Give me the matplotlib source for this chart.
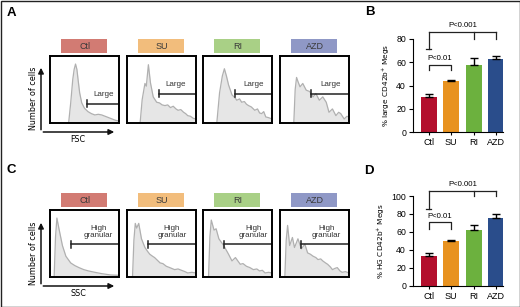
import matplotlib.pyplot as plt
import matplotlib.patches as mpatches
import numpy as np

W, H = 520, 307

groups = ['Ctl', 'SU', 'RI', 'AZD']
header_colors = ['#d27b73', '#f2bd7c', '#a9d086', '#8f98c6']
bar_colors = ['#b30f2d', '#e8921f', '#6cb13e', '#2a4d8b']

# bar panels (B: large, D: high granular)
large_pct = [30, 44, 58, 62.5]
large_err = [2.5, 1, 6, 3]
hg_pct = [33, 49.5, 62, 75.5]
hg_err = [3, 1.5, 6, 4]

# FSC histograms (x, height in % of box)
fsc_ctl_x = [27, 30, 33, 35, 37, 39, 41, 43, 46, 50, 55, 60, 65, 70, 75, 80, 85, 90, 95, 100]
fsc_ctl_y = [0, 30, 65, 80, 88, 80, 62, 45, 30, 22, 17, 14, 12, 13, 12, 10, 8, 6, 4, 3]
fsc_su_x = [19, 22, 26, 28, 31, 34, 38, 43, 47, 51, 55, 59, 63, 67, 71, 74, 78, 82, 85, 88, 92, 96, 100]
fsc_su_y = [0, 35, 59, 55, 87, 60, 39, 31, 30, 27, 26, 27, 23, 25, 21, 19, 20, 16, 14, 11, 10, 7, 6]
fsc_ri_x = [20, 24, 28, 31, 34, 37, 42, 46, 49, 53, 56, 60, 63, 66, 70, 75, 79, 82, 85, 88, 91, 95, 100]
fsc_ri_y = [0, 45, 70, 81, 70, 57, 42, 38, 34, 36, 31, 32, 28, 26, 24, 19, 21, 15, 14, 17, 9, 8, 6]
fsc_azd_x = [20, 22, 24, 26, 29, 33, 38, 43, 48, 52, 57, 62, 67, 71, 76, 81, 85, 88, 93, 97, 100]
fsc_azd_y = [0, 50, 68, 62, 54, 59, 49, 47, 39, 44, 34, 39, 31, 16, 21, 11, 16, 14, 6, 10, 9]
fsc_gate = [53, 47, 47, 45]
fsc_gate_y = [29, 44, 44, 44]

# SSC histograms
ssc_ctl_x = [6, 8, 10, 13, 18, 23, 30, 36, 42, 49, 56, 65, 75, 88, 100]
ssc_ctl_y = [0, 60, 88, 72, 47, 31, 21, 17, 14, 11, 9, 7, 5, 3, 2.5]
ssc_su_x = [8, 10, 12, 14, 17, 21, 26, 30, 33, 37, 40, 44, 48, 52, 57, 62, 69, 74, 79, 84, 88, 94, 100]
ssc_su_y = [0, 55, 80, 73, 80, 57, 44, 38, 34, 31, 29, 25, 21, 20, 16, 14, 11, 12, 10, 8, 6, 7, 6]
ssc_ri_x = [8, 10, 12, 16, 19, 23, 30, 37, 42, 47, 54, 58, 63, 68, 73, 78, 82, 86, 90, 95, 100]
ssc_ri_y = [0, 60, 85, 70, 72, 57, 47, 34, 24, 29, 19, 20, 16, 14, 11, 12, 9, 10, 6, 7, 6]
ssc_azd_x = [7, 9, 11, 14, 18, 21, 26, 31, 36, 40, 44, 48, 52, 55, 59, 62, 66, 69, 73, 76, 80, 83, 87, 90, 95, 100]
ssc_azd_y = [0, 55, 77, 47, 59, 44, 57, 42, 49, 36, 34, 31, 29, 26, 27, 24, 21, 19, 15, 11, 13, 14, 9, 7, 8, 6]
ssc_gate = [31, 31, 31, 30]
ssc_gate_y = [49, 49, 49, 49]

narrow = ['Liberation Sans Narrow', 'DejaVu Sans']
plt.rcParams['font.family'] = ['Liberation Sans', 'DejaVu Sans']

fig = plt.figure(figsize=(W / 100, H / 100), dpi=100)


def px_axes(x, y, w, h):
    return fig.add_axes([x / W, 1 - (y + h) / H, w / W, h / H])


# overlay in pixel coordinates for headers, arrows and labels
ov = px_axes(0, 0, W, H)
ov.set_xlim(0, W)
ov.set_ylim(H, 0)
ov.axis('off')
ov.add_patch(mpatches.Rectangle((0.5, 0.5), W - 1, H - 1, fill=False, ec='#222222', lw=1))

for lab, (lx, ly) in zip('ABCD', [(11, 13.5), (369.5, 12), (11, 170), (369, 171)]):
    ov.text(lx, ly, lab, fontsize=9.5, fontweight='bold', ha='center', va='center')

box_x = [50, 127, 203, 280]
box_w = 69


def draw_hist(ax, xs, ys, gate, gate_y, label, label_x, label_y):
    ax.fill_between(xs, ys, color='#e6e6e6', lw=0)
    ax.plot(xs, ys, color='#b0b0b0', lw=0.9)
    ax.plot([gate, 100], [gate_y, gate_y], color='#222222', lw=1.1)
    ax.plot([gate, gate], [gate_y - 5, gate_y + 5], color='#222222', lw=1.1)
    ax.text(label_x, label_y, label, fontsize=5.8, ha='center', va='center',
            color='#333333', linespacing=1.1)
    ax.set_xlim(0, 100)
    ax.set_ylim(0, 100)
    ax.set_xticks([])
    ax.set_yticks([])
    for s in ax.spines.values():
        s.set_linewidth(1.4)


fsc_data = [(fsc_ctl_x, fsc_ctl_y), (fsc_su_x, fsc_su_y), (fsc_ri_x, fsc_ri_y), (fsc_azd_x, fsc_azd_y)]
ssc_data = [(ssc_ctl_x, ssc_ctl_y), (ssc_su_x, ssc_su_y), (ssc_ri_x, ssc_ri_y), (ssc_azd_x, ssc_azd_y)]
fsc_text_x = [77, 71, 74, 74]
ssc_text_x = [70, 65, 73, 67]

for row_y, head_y, data, gates, gys, txt, txt_x, txt_y in [
        (56, 39, fsc_data, fsc_gate, fsc_gate_y, 'Large', fsc_text_x, [42, 57, 57, 57]),
        (210, 193, ssc_data, ssc_gate, ssc_gate_y, 'High\ngranular', ssc_text_x, [67, 67, 67, 67])]:
    for i, g in enumerate(groups):
        bx = box_x[i]
        ov.add_patch(mpatches.Rectangle((bx + 11, head_y), 46, 14, color=header_colors[i], lw=0))
        ov.text(bx + box_w / 2, head_y + 7.5, g, fontsize=6.5, ha='center', va='center', color='#3a3a3a')
        ax = px_axes(bx, row_y, box_w, 67)
        draw_hist(ax, data[i][0], data[i][1], gates[i], gys[i], txt, txt_x[i], txt_y[i])

# axis arrows
for top, bottom, xl, xy in [(65, 132, 'FSC', 139), (220, 286, 'SSC', 293)]:
    ov.annotate('', xy=(41, top), xytext=(41, bottom + 0.5),
                arrowprops=dict(arrowstyle='-|>', color='#111111', lw=1.1, mutation_scale=8))
    ov.annotate('', xy=(117, bottom), xytext=(40.5, bottom),
                arrowprops=dict(arrowstyle='-|>', color='#111111', lw=1.1, mutation_scale=8))
    ov.text(33, (top + bottom) / 2, 'Number of cells', rotation=90, fontsize=5.8,
            ha='center', va='center', family=narrow)
    ov.text(78, xy, xl, fontsize=5.8, ha='center', va='center', family=narrow)


def draw_bars(ax, vals, errs, top, ticks, ylabel, b1, b2):
    x = np.arange(len(groups))
    ax.bar(x, vals, width=0.7, color=bar_colors)
    ax.errorbar(x, vals, yerr=[np.zeros(len(errs)), errs], fmt='none', ecolor='black',
                elinewidth=1, capsize=2.8, capthick=1)
    ax.set_xlim(-0.7, 3.3)
    ax.set_ylim(0, top)
    ax.spines[['top', 'right']].set_visible(False)
    ax.spines['left'].set_bounds(0, top)
    ax.set_yticks(ticks)
    ax.set_xticks(x)
    ax.set_xticklabels(groups)
    ax.tick_params(axis='y', labelsize=6.3, length=3, width=0.8, pad=2)
    ax.tick_params(axis='x', labelsize=6.5, length=2, width=0.8, pad=2.5)
    ax.set_ylabel(ylabel, fontsize=5.3, family=narrow, labelpad=3)
    kw = dict(color='#222222', lw=0.9, clip_on=False)
    # P<0.01 bracket Ctl vs SU
    y1, d1, t1 = b1
    ax.plot([0, 0, 1, 1], [d1, y1, y1, d1], **kw)
    ax.text(0.5, t1, 'P<0.01', fontsize=5.6, ha='center', va='center')
    # P<0.001 bracket Ctl vs RI, AZD
    y2, dc, dr, t2 = b2
    ax.plot([0, 0], [dc, y2], **kw)
    ax.plot([-0.12, 0.12], [dc, dc], **kw)
    ax.plot([0, 3], [y2, y2], **kw)
    ax.plot([2, 2], [y2, dr], **kw)
    ax.plot([3, 3], [y2, dr], **kw)
    ax.text(1.5, t2, 'P<0.001', fontsize=5.6, ha='center', va='center', clip_on=False)


axb = px_axes(413, 39, 90, 93)
draw_bars(axb, large_pct, large_err, 80, [0, 20, 40, 60, 80],
          '% large CD42b$^{+}$ Megs', (57.7, 53, 63), (86, 71, 80, 91.5))
axd = px_axes(413, 196, 90, 89.7)
draw_bars(axd, hg_pct, hg_err, 100, [0, 20, 40, 60, 80, 100],
          '% HG CD42b$^{+}$ Megs', (70.6, 63, 77), (106, 86, 100, 112.5))

fig.savefig('out.png', dpi=100)
